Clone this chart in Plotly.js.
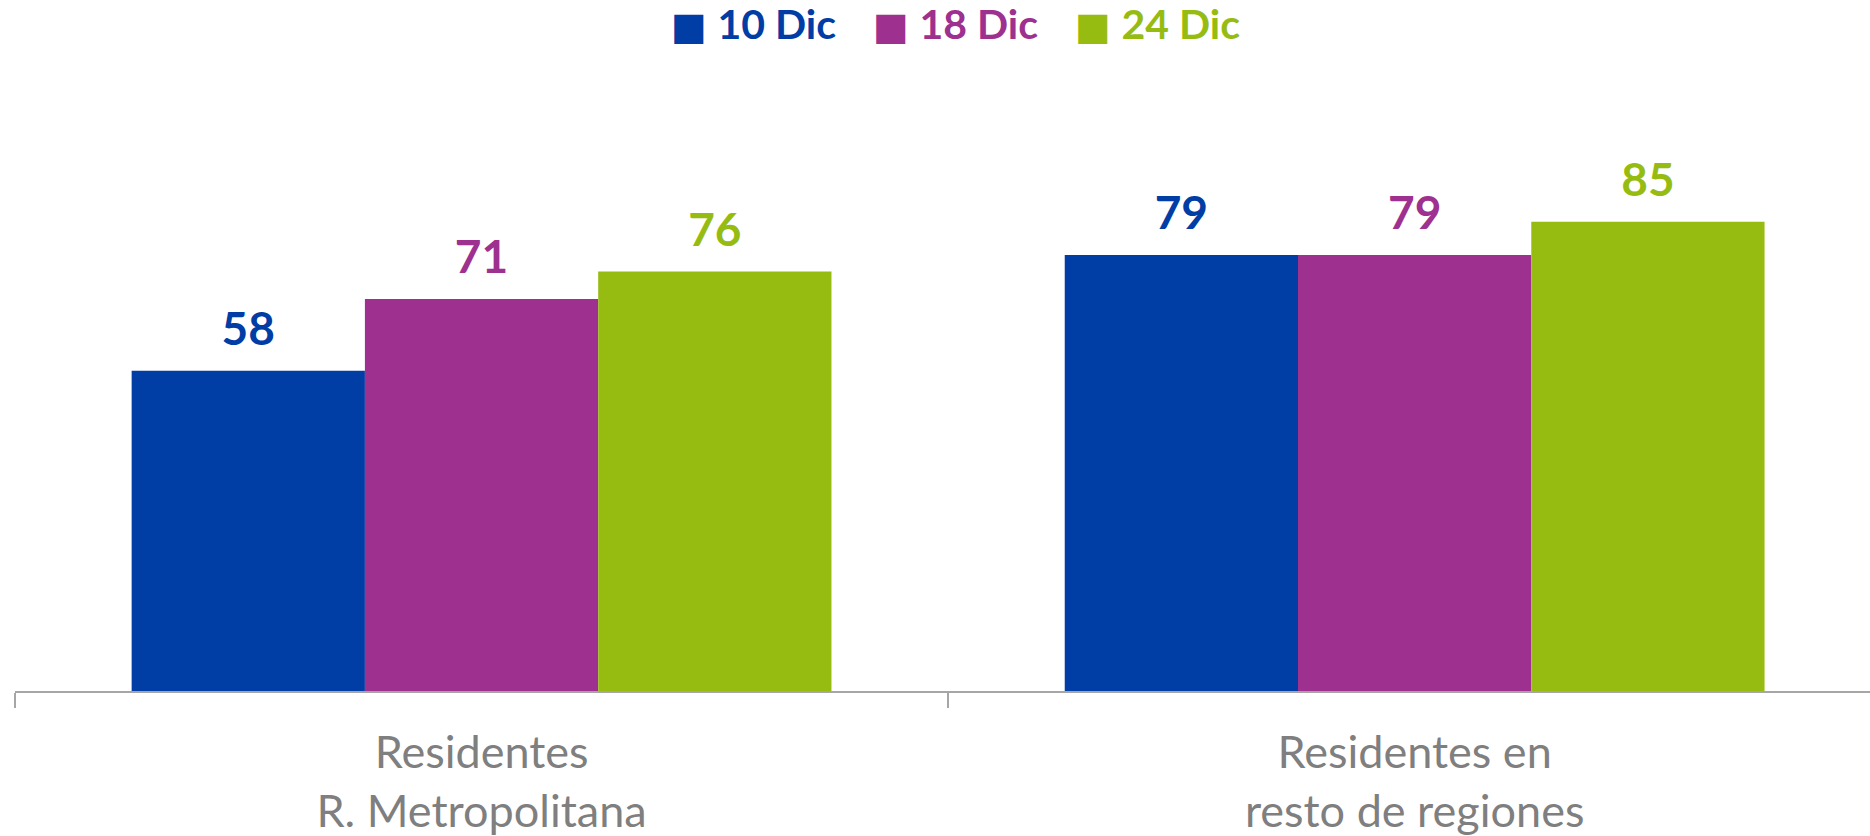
<!DOCTYPE html>
<html>
<head>
<meta charset="utf-8">
<script src="https://cdn.plot.ly/plotly-3.0.1.min.js"></script>
<style>html,body{margin:0;padding:0;background:#fff;}#chart{width:1870px;height:836px;}</style>
</head>
<body>
<div id="chart"></div>
<script>
const categories = ["Residentes<br>R. Metropolitana", "Residentes en<br>resto de regiones"];
const seriesNames = ["10 Dic", "18 Dic", "24 Dic"];
const seriesColors = ["#003DA5", "#9E308F", "#97BC11"];
const values10 = [58, 79];
const values18 = [71, 79];
const values24 = [76, 85];
const seriesValues = [values10, values18, values24];

const traces = [];
seriesValues.forEach((vals, i) => {
  traces.push({
    type: "bar", x: categories, y: vals, name: seriesNames[i],
    offsetgroup: String(i), marker: {color: seriesColors[i]},
    showlegend: false, hoverinfo: "skip"
  });
});
seriesValues.forEach((vals, i) => {
  traces.push({
    type: "scatter", mode: "markers+text", x: categories, y: vals,
    offsetgroup: String(i), text: vals.map(String), textposition: "top center",
    textfont: {family: "Lato", size: 46, color: seriesColors[i], weight: "bold"},
    texttemplate: "<b>%{text}</b>",
    marker: {size: 21, opacity: 0}, showlegend: false, hoverinfo: "skip", cliponaxis: false
  });
});

const legendXs = [0.3526, 0.4615, 0.5704];
const annotations = seriesNames.map((n, i) => ({
  xref: "paper", yref: "paper", x: legendXs[i], y: 1, yshift: 77,
  xanchor: "left", yanchor: "middle", showarrow: false,
  text: "<span style='font-family:DejaVu Sans;font-size:38px'>■</span> <b>" + n + "</b>",
  font: {family: "Lato", size: 41, color: seriesColors[i]}
}));

const layout = {
  width: 1870, height: 836,
  margin: {l: 15, r: 0, t: 100, b: 145},
  paper_bgcolor: "#fff", plot_bgcolor: "#fff",
  barmode: "group", bargap: 0.25, bargroupgap: 0,
  scattermode: "group", scattergap: 0.25,
  showlegend: false,
  xaxis: {
    type: "category", range: [-0.5, 1.488], fixedrange: true,
    showline: true, linecolor: "#A6A6A6", linewidth: 2,
    ticks: "outside", tickson: "boundaries", ticklen: 15, tickwidth: 2, tickcolor: "#A6A6A6",
    tickfont: {family: "Lato", size: 45, color: "#7F7F7F"},
    ticklabelstandoff: 21, showgrid: false, zeroline: false
  },
  yaxis: {visible: false, range: [0, 107.07], fixedrange: true, showgrid: false, zeroline: false},
  annotations: annotations
};

Plotly.newPlot("chart", traces, layout, {displayModeBar: false, staticPlot: true});
</script>
</body>
</html>
